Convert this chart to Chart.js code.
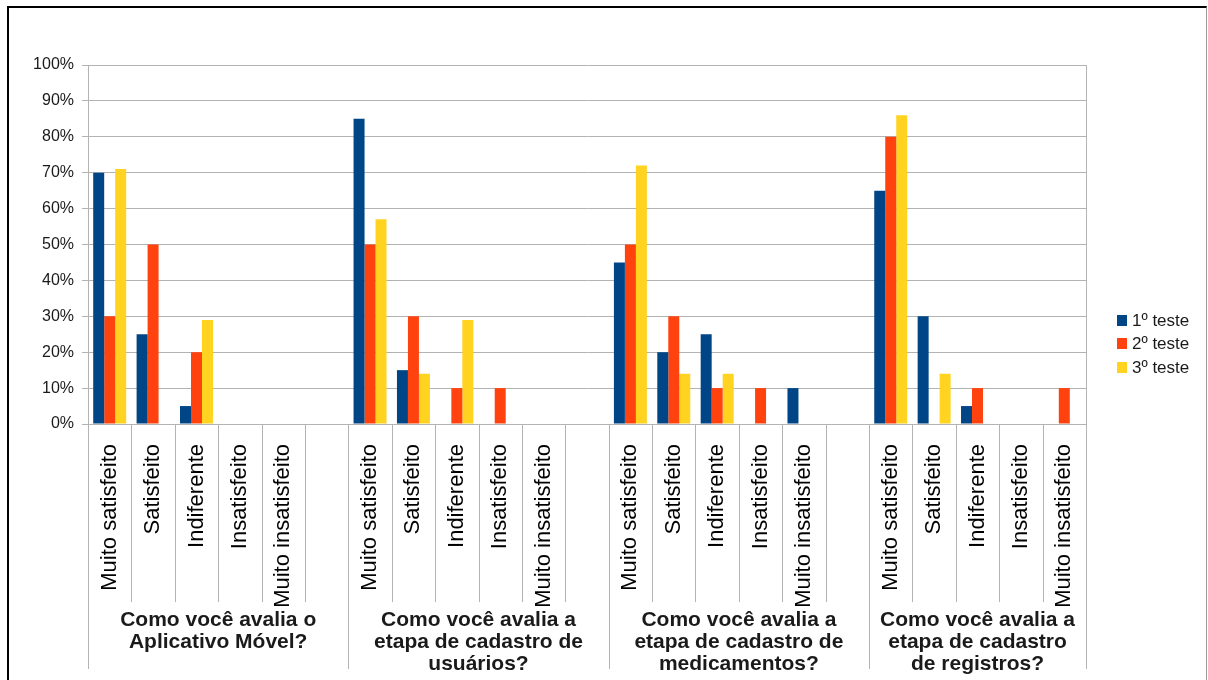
<!DOCTYPE html>
<html>
<head>
<meta charset="utf-8">
<script src="https://cdn.jsdelivr.net/npm/chart.js@4.4.1/dist/chart.umd.min.js"></script>
<style>
  body { margin: 0; background: #fff; }
  #wrap { position: relative; width: 1208px; height: 680px; overflow: hidden; }
  #frame { position: absolute; left: 7px; top: 6px; width: 1200px; height: 700px;
           border-top: 2px solid #000; border-left: 2px solid #000; border-right: 1px solid #999;
           box-sizing: border-box; pointer-events: none; }
  canvas { position: absolute; left: 0; top: 0; }
</style>
</head>
<body>
<div id="wrap">
  <div id="frame"></div>
  <canvas id="grafico" width="1208" height="680"></canvas>
</div>
<script>
// answer options, repeated under every question
const categories = ['Muito satisfeito', 'Satisfeito', 'Indiferente', 'Insatisfeito', 'Muito insatisfeito'];

// question titles, already split in lines
const questions = [
  ['Como você avalia o', 'Aplicativo Móvel?'],
  ['Como você avalia a', 'etapa de cadastro de', 'usuários?'],
  ['Como você avalia a', 'etapa de cadastro de', 'medicamentos?'],
  ['Como você avalia a', 'etapa de cadastro', 'de registros?']
];

const seriesNames = ['1º teste', '2º teste', '3º teste'];
const seriesColors = ['#004586', '#ff420e', '#ffd320'];

// % of answers, 5 per question
const teste1 = [70, 25, 5, 0, 0,   85, 15, 0, 0, 0,    45, 20, 25, 0, 10,  65, 30, 5, 0, 0];
const teste2 = [30, 50, 20, 0, 0,  50, 30, 10, 10, 0,  50, 30, 10, 10, 0,  80, 0, 10, 0, 10];
const teste3 = [71, 0, 29, 0, 0,   57, 14, 29, 0, 0,   72, 14, 14, 0, 0,   86, 14, 0, 0, 0];

const yTicks = [0, 10, 20, 30, 40, 50, 60, 70, 80, 90, 100];

const gridColor = '#b3b3b3';
const textColor = '#1a1a1a';

// an empty slot between the questions
function withGaps(values) {
  const out = [];
  questions.forEach((q, i) => {
    for (let k = 0; k < categories.length; k++) out.push(values[i * categories.length + k]);
    if (i < questions.length - 1) out.push(null);
  });
  return out;
}

const labels = [];
questions.forEach((q, i) => {
  categories.forEach(c => labels.push(c));
  if (i < questions.length - 1) labels.push('');
});

const series = [teste1, teste2, teste3];

// lines under the axis + question titles + legend
const groupAxis = {
  id: 'groupAxis',
  afterDraw(chart) {
    const ctx = chart.ctx;
    const x = chart.scales.x;
    const area = chart.chartArea;
    const step = x.getPixelForValue(1) - x.getPixelForValue(0);
    const per = categories.length + 1;
    const shortEnd = area.bottom + 178;
    const longEnd = area.bottom + 245;

    ctx.save();
    ctx.strokeStyle = gridColor;
    ctx.lineWidth = 1;
    for (let i = 0; i <= labels.length; i++) {
      const px = Math.round(x.getPixelForValue(i) - step / 2) + 0.5;
      const edge = i % per === 0 || i === labels.length;
      ctx.beginPath();
      ctx.moveTo(px, i === labels.length ? area.top : area.bottom);
      ctx.lineTo(px, edge ? longEnd : shortEnd);
      ctx.stroke();
    }

    ctx.fillStyle = textColor;
    ctx.font = 'bold 21px "Liberation Sans", Arial, sans-serif';
    ctx.textAlign = 'center';
    ctx.textBaseline = 'alphabetic';
    questions.forEach((lines, g) => {
      const first = g * per;
      const last = Math.min(first + per, labels.length);
      const cx = (x.getPixelForValue(first) + x.getPixelForValue(last - 1)) / 2;
      lines.forEach((t, k) => ctx.fillText(t, cx, area.bottom + 202 + k * 22));
    });

    ctx.font = '17px "Liberation Sans", Arial, sans-serif';
    ctx.textAlign = 'left';
    ctx.textBaseline = 'middle';
    chart.data.datasets.forEach((ds, i) => {
      const y = 320 + i * 23.7;
      ctx.fillStyle = ds.backgroundColor;
      ctx.fillRect(area.right + 31, Math.round(y - 5.5), 10, 11);
      ctx.fillStyle = textColor;
      ctx.fillText(ds.label, area.right + 46, y + 1);
    });
    ctx.restore();
  }
};

new Chart(document.getElementById('grafico'), {
  type: 'bar',
  data: {
    labels: labels,
    datasets: series.map((s, i) => ({
      label: seriesNames[i],
      data: withGaps(s),
      backgroundColor: seriesColors[i],
      borderWidth: 0,
      categoryPercentage: 0.76,
      barPercentage: 1.0
    }))
  },
  options: {
    responsive: false,
    animation: false,
    devicePixelRatio: 1,
    layout: { padding: { top: 65, left: 8, right: 122, bottom: 0 } },
    plugins: {
      legend: { display: false },
      tooltip: { enabled: false }
    },
    scales: {
      x: {
        grid: { display: false },
        border: { display: true, color: gridColor },
        ticks: {
          autoSkip: false,
          minRotation: 90,
          maxRotation: 90,
          padding: 12,
          color: '#000',
          font: { family: '"Liberation Sans", Arial, sans-serif', size: 22 }
        },
        afterFit(scale) { scale.height = 256; }
      },
      y: {
        min: yTicks[0],
        max: yTicks[yTicks.length - 1],
        afterBuildTicks(scale) { scale.ticks = yTicks.map(v => ({ value: v })); },
        grid: { color: gridColor, tickLength: 6, tickColor: gridColor },
        border: { color: gridColor },
        ticks: {
          padding: 8,
          color: textColor,
          font: { family: '"Liberation Sans", Arial, sans-serif', size: 16 },
          callback: v => v + '%'
        },
        afterFit(scale) { scale.width = 80; }
      }
    }
  },
  plugins: [groupAxis]
});
</script>
</body>
</html>
